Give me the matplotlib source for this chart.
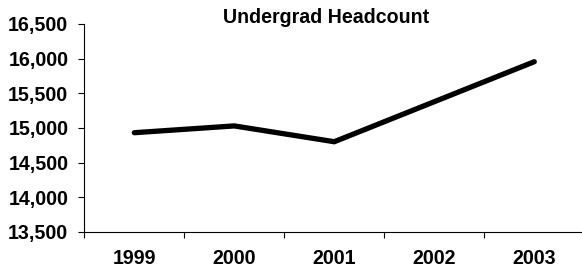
import matplotlib
matplotlib.use("Agg")
import matplotlib.pyplot as plt

years = ["1999", "2000", "2001", "2002", "2003"]
headcount = [14932, 15030, 14802, 15379, 15956]
y_ticks = [13500, 14000, 14500, 15000, 15500, 16000, 16500]

plt.rcParams["font.family"] = ["Liberation Sans", "DejaVu Sans"]
plt.rcParams["font.weight"] = "bold"

fig = plt.figure(figsize=(5.82, 2.73), dpi=100)
ax = fig.add_axes([0.1448, 0.1502, 0.8591, 0.7619])

x = list(range(len(years)))
ax.plot(x, headcount, color="black", linewidth=3.8,
        solid_capstyle="round", solid_joinstyle="miter")

ax.set_xlim(-0.5, len(years) - 0.5)
ax.set_ylim(y_ticks[0], y_ticks[-1])

ax.set_yticks(y_ticks)
ax.set_yticklabels([f"{v:,}" for v in y_ticks])
ax.set_xticks(x)
ax.set_xticklabels(years)
ax.set_xticks([i - 0.5 for i in range(len(years) + 1)], minor=True)

ax.tick_params(axis="y", direction="out", length=4.3, width=0.8,
               pad=7.2, labelsize=14.1)
ax.tick_params(axis="x", which="major", length=0, pad=12.5, labelsize=14.1)
ax.tick_params(axis="x", which="minor", direction="out", length=4.3, width=0.8)

for side in ["top", "right"]:
    ax.spines[side].set_visible(False)
for side in ["left", "bottom"]:
    ax.spines[side].set_linewidth(0.8)
    ax.spines[side].set_color("black")
ax.spines["bottom"].set_clip_on(False)

fig.text(326 / 582, 1 - 23.3 / 273, "Undergrad Headcount",
         ha="center", va="baseline", fontsize=14.1, fontweight="bold")

fig.savefig("out.png", dpi=100)
